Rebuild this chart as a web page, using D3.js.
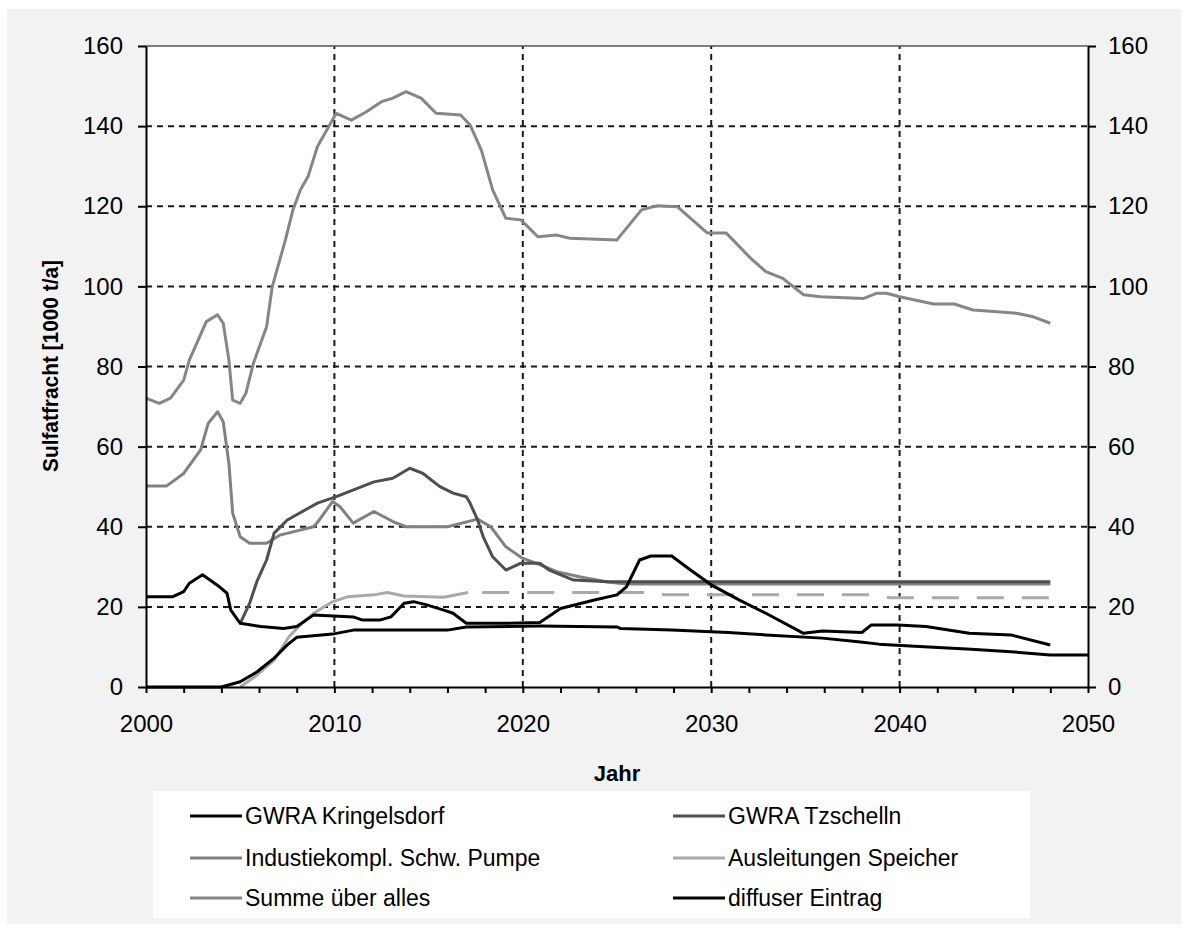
<!DOCTYPE html>
<html>
<head>
<meta charset="utf-8">
<script src="https://cdn.jsdelivr.net/npm/d3@7"></script>
<style>
  body { margin: 0; background: #fff; }
  svg { display: block; font-family: "Liberation Sans", Arial, sans-serif; }
</style>
</head>
<body>
<div id="chart"></div>
<script>
// data: [year, 1000 t/a]
var kringelsdorf = [[2000,22.5],[2001.4,22.5],[2002,23.8],[2002.3,25.9],[2003,28],[2003.9,25],[2004.3,23.4],[2004.5,19.2],[2005,15.9],[2006.1,15.1],[2007.3,14.6],[2008,15.1],[2008.9,18],[2011,17.5],[2011.5,16.7],[2012.4,16.7],[2013,17.5],[2013.7,20.9],[2014.2,21.3],[2014.9,20.5],[2015.8,19.2],[2016.3,18.4],[2017,15.9],[2019.1,15.9],[2020.9,16.1],[2022,19.6],[2023.8,21.7],[2025,23],[2025.5,25],[2026.2,31.7],[2026.8,32.7],[2027.9,32.7],[2028.9,29.2],[2030,25.5],[2031.5,21.7],[2032.9,18.4],[2034.9,13.4],[2035.9,14],[2038,13.6],[2038.5,15.5],[2039.9,15.5],[2041.4,15.1],[2043.7,13.4],[2045.9,13],[2048,10.5]];
var tzschelln = [[2005,15.9],[2005.5,20.9],[2005.9,26.5],[2006.4,31.7],[2006.8,38.4],[2007.5,41.7],[2009.1,45.9],[2010.1,47.5],[2012.1,51.2],[2013.1,52.1],[2014,54.6],[2014.7,53.3],[2015.6,50],[2016.3,48.4],[2017,47.5],[2017.2,45.9],[2017.6,41.7],[2017.9,37.5],[2018.4,32.5],[2019.1,29.2],[2019.9,30.9],[2020.9,30.9],[2021.4,29.2],[2022.7,26.7],[2024.5,26.3],[2048,26.3]];
var industrie = [[2000,50.2],[2001.1,50.2],[2002,53.3],[2002.9,59.2],[2003.3,65.8],[2003.8,68.7],[2004.1,66.2],[2004.4,55.8],[2004.6,43.4],[2005,37.5],[2005.5,35.9],[2006.4,35.9],[2007.1,37.9],[2008.9,40],[2009.2,41.7],[2009.9,46.3],[2010.3,45],[2011,40.9],[2012.1,43.8],[2013.1,41.3],[2013.8,40],[2016,40],[2017.6,41.9],[2018.3,40],[2019.1,35],[2020,32.1],[2020.7,30.9],[2021.8,28.8],[2023,27.5],[2024.5,26.2],[2025.5,25.7],[2048,25.7]];
var ausleitungen = [[2005,0],[2005.9,3],[2006.8,6.7],[2007.6,12.6],[2008.2,15.5],[2008.9,18.4],[2009.9,21.3],[2010.7,22.5],[2012.1,23],[2012.8,23.6],[2013.7,22.7],[2015.8,22.4],[2017.1,23.6]];
var ausleitungenPrognose = [[2017.1,23.6],[2026.5,23.6],[2027.5,23],[2038.5,23],[2039.5,22.3],[2048,22.3]];
var summe = [[2000,72.1],[2000.7,70.8],[2001.3,72.1],[2002,76.6],[2002.3,81.6],[2003.2,91.2],[2003.8,92.9],[2004.1,90.8],[2004.4,81.6],[2004.6,71.6],[2005,70.8],[2005.3,73.3],[2005.7,80.8],[2006.4,89.9],[2006.7,99.9],[2007.4,111.6],[2007.8,119.1],[2008.2,124.1],[2008.6,127.4],[2009.1,134.9],[2010.1,143.2],[2010.9,141.5],[2011.7,143.6],[2012.5,146.1],[2013.1,147],[2013.8,148.6],[2014.6,147],[2015.4,143.2],[2016.7,142.8],[2017.2,140.3],[2017.8,134],[2018.4,124.1],[2019.1,117],[2019.9,116.6],[2020.8,112.4],[2021.8,112.8],[2022.5,112],[2025,111.6],[2026.3,119.1],[2027.1,120.1],[2028.2,119.9],[2029.8,113.3],[2030.8,113.3],[2032.1,107],[2032.9,103.7],[2033.8,102],[2034.9,97.9],[2035.8,97.4],[2038.1,97],[2038.8,98.3],[2039.3,98.3],[2040,97.4],[2041.8,95.6],[2042.9,95.6],[2043.9,94.1],[2045,93.7],[2046.2,93.3],[2047.1,92.4],[2048,90.8]];
var diffus = [[2000,0],[2004,0],[2005,1.3],[2005.9,3.8],[2006.8,7.2],[2007.5,10.5],[2008,12.4],[2009.9,13.2],[2011,14.2],[2016,14.2],[2017,15],[2020.9,15.2],[2025,15],[2025.2,14.6],[2027.9,14.2],[2030.9,13.6],[2032.9,13],[2035.9,12.2],[2037.8,11.3],[2038.9,10.7],[2040.8,10.2],[2043.8,9.4],[2045.9,8.8],[2048,8],[2050,8]];

var yTicks = [0, 20, 40, 60, 80, 100, 120, 140, 160];
var xTicks = d3.range(2000, 2051, 2);
var xLabels = [2000, 2010, 2020, 2030, 2040, 2050];

var legendLabels = ["GWRA Kringelsdorf", "GWRA Tzschelln", "Industiekompl. Schw. Pumpe", "Ausleitungen Speicher", "Summe über alles", "diffuser Eintrag"];
var legendColors = ["#000000", "#4f4f4f", "#818181", "#a9a9a9", "#868686", "#000000"];

var width = 1188, height = 929;
var svg = d3.select("#chart").append("svg")
    .attr("width", width)
    .attr("height", height);

// grey panel
svg.append("rect").attr("x", 7).attr("y", 9).attr("width", 1174).attr("height", 915).attr("fill", "#f2f2f2");

var x = d3.scaleLinear().domain([2000, 2050]).range([146, 1088]);
var y = d3.scaleLinear().domain([0, 160]).range([687, 46]);

// plot area
svg.append("rect")
    .attr("x", x(2000)).attr("y", y(160))
    .attr("width", x(2050) - x(2000)).attr("height", y(0) - y(160))
    .attr("fill", "#fff");

// grid
var grid = svg.append("g").attr("stroke", "#1a1a1a").attr("stroke-width", 2).attr("stroke-dasharray", "6,5");
grid.selectAll(".hg").data(yTicks.filter(function(d) { return d > 0 && d < 160; }))
    .enter().append("line")
    .attr("x1", x(2000)).attr("x2", x(2050))
    .attr("y1", function(d) { return y(d); }).attr("y2", function(d) { return y(d); });
grid.selectAll(".vg").data(xLabels.filter(function(d) { return d > 2000 && d < 2050; }))
    .enter().append("line")
    .attr("y1", y(0)).attr("y2", y(160))
    .attr("x1", function(d) { return x(d); }).attr("x2", function(d) { return x(d); });

// top border
svg.append("line").attr("x1", x(2000)).attr("x2", x(2050)).attr("y1", y(160)).attr("y2", y(160))
    .attr("stroke", "#555").attr("stroke-width", 1.5);

// lines
var line = d3.line().x(function(d) { return x(d[0]); }).y(function(d) { return y(d[1]); });

var series = [
    { data: summe, color: legendColors[4] },
    { data: industrie, color: legendColors[2] },
    { data: tzschelln, color: legendColors[1] },
    { data: ausleitungen, color: legendColors[3] },
    { data: ausleitungenPrognose, color: legendColors[3], dash: "27,18", offset: -14 },
    { data: diffus, color: legendColors[5] },
    { data: kringelsdorf, color: legendColors[0] }
];

svg.append("g").selectAll("path")
    .data(series)
    .enter().append("path")
    .attr("d", function(d) { return line(d.data); })
    .attr("fill", "none")
    .attr("stroke", function(d) { return d.color; })
    .attr("stroke-width", 3)
    .attr("stroke-linejoin", "round")
    .attr("stroke-dasharray", function(d) { return d.dash || null; })
    .attr("stroke-dashoffset", function(d) { return d.offset || null; });

// axes
function styleAxis(g) {
    g.selectAll("path").attr("stroke", "#000").attr("stroke-width", 2);
    g.selectAll("line").attr("stroke", "#000").attr("stroke-width", 2);
    g.selectAll("text").attr("font-size", 24).attr("fill", "#000")
        .attr("font-family", "'Liberation Sans', Arial, sans-serif");
}

svg.append("g")
    .attr("transform", "translate(0," + y(0) + ")")
    .call(d3.axisBottom(x).tickValues(xTicks).tickSizeInner(6).tickSizeOuter(0).tickPadding(22)
        .tickFormat(function(d) { return xLabels.indexOf(d) >= 0 ? d : ""; }))
    .call(styleAxis);

svg.append("g")
    .attr("transform", "translate(" + x(2000) + ",0)")
    .call(d3.axisLeft(y).tickValues(yTicks).tickSizeInner(8).tickSizeOuter(0).tickPadding(15))
    .call(styleAxis);

svg.append("g")
    .attr("transform", "translate(" + x(2050) + ",0)")
    .call(d3.axisRight(y).tickValues(yTicks).tickSizeInner(8).tickSizeOuter(0).tickPadding(12))
    .call(styleAxis);

// axis titles
svg.append("text")
    .attr("x", 617).attr("y", 781)
    .attr("text-anchor", "middle")
    .attr("font-size", 22).attr("font-weight", "bold")
    .text("Jahr");

svg.append("text")
    .attr("transform", "translate(58,366) rotate(-90)")
    .attr("text-anchor", "middle")
    .attr("font-size", 22).attr("font-weight", "bold")
    .attr("textLength", 212).attr("lengthAdjust", "spacingAndGlyphs")
    .text("Sulfatfracht  [1000 t/a]");

// legend
svg.append("rect").attr("x", 153).attr("y", 791).attr("width", 877).attr("height", 127).attr("fill", "#fff");

var legendItems = svg.append("g").selectAll("g")
    .data(legendLabels)
    .enter().append("g")
    .attr("transform", function(d, i) {
        var col = i % 2, row = Math.floor(i / 2);
        return "translate(" + (col === 0 ? 190 : 673) + "," + [816, 858, 898][row] + ")";
    });

legendItems.append("line")
    .attr("x1", 0).attr("x2", 52).attr("y1", 0).attr("y2", 0)
    .attr("stroke", function(d, i) { return legendColors[i]; })
    .attr("stroke-width", 3);

legendItems.append("text")
    .attr("x", 55).attr("y", 8)
    .attr("font-size", 23)
    .text(function(d) { return d; });
</script>
</body>
</html>
